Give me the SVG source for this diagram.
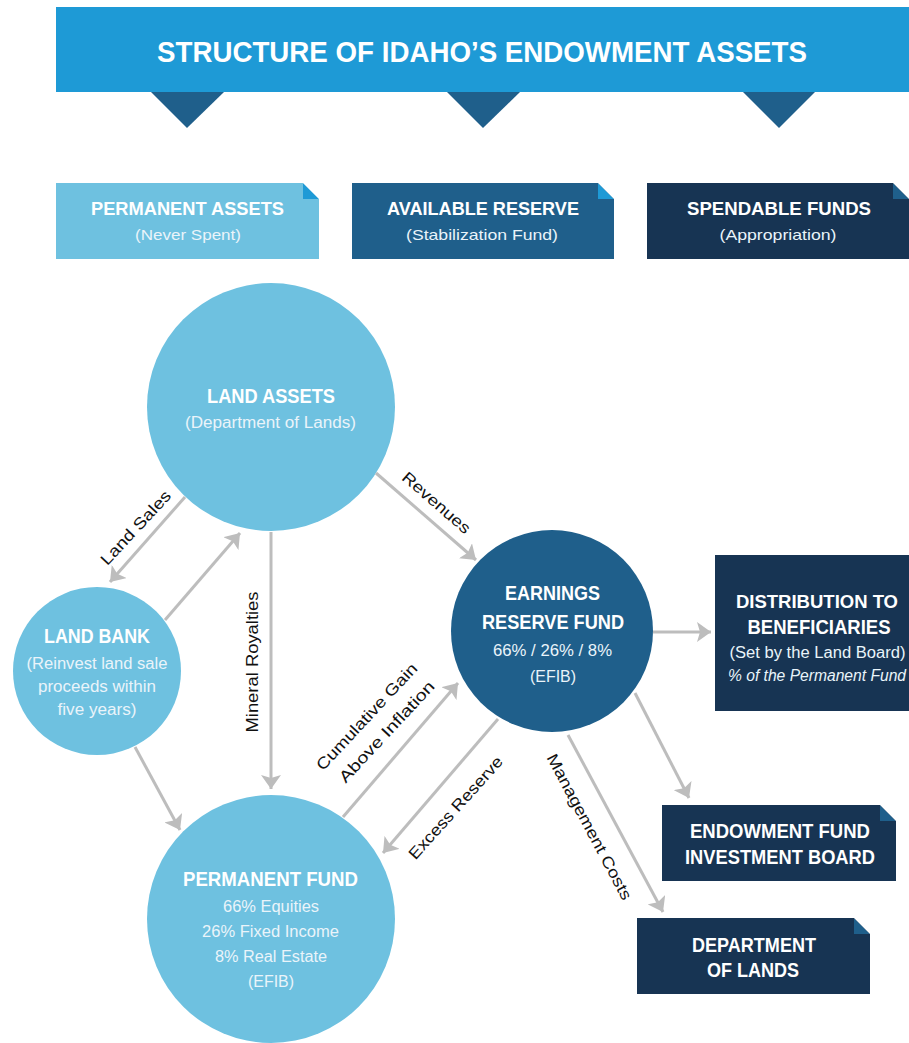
<svg xmlns="http://www.w3.org/2000/svg" width="909" height="1043" viewBox="0 0 909 1043">
<defs>
<style>
.hd{font-family:"Liberation Sans Narrow","Liberation Sans",Arial,sans-serif;font-weight:700;fill:#ffffff;text-anchor:middle}
.sb{font-family:"Liberation Sans Narrow","Liberation Sans",Arial,sans-serif;font-weight:400;fill:#eaf4fa;text-anchor:middle}
.lb{font-family:"Liberation Sans",Arial,sans-serif;font-size:16px;fill:#111111;text-anchor:middle}
.cn{stroke:#bdbdbd;stroke-width:3;fill:none;marker-end:url(#ah)}
.lc{fill:#6ec1e0}
.mb{fill:#1f5f8b}
.db{fill:#173453}
.bb{fill:#1e9ad6}
</style>
<marker id="ah" viewBox="0 0 14 20" refX="14" refY="10" markerWidth="14" markerHeight="20" markerUnits="userSpaceOnUse" orient="auto">
<path d="M0,0 L14,10 L0,20 L3,10 z" fill="#bdbdbd"/>
</marker>
</defs>
<rect width="909" height="1043" fill="#ffffff"/>

<g id="header">
<rect x="56" y="7" width="860" height="85" class="bb"/>
<polygon points="151,92 224,92 187,128" class="mb"/>
<polygon points="447,92 520,92 483,128" class="mb"/>
<polygon points="743,92 815,92 779,128" class="mb"/>
<text x="482" y="62" class="hd" font-size="29" textLength="650" lengthAdjust="spacingAndGlyphs">STRUCTURE OF IDAHO’S ENDOWMENT ASSETS</text>
</g>

<g id="permanent-assets">
<rect x="56" y="183" width="263" height="76" class="lc"/>
<polygon points="303,183 319,199 303,199" fill="#1e9ad6"/>
<polygon points="303,183 319,183 319,199" fill="#ffffff"/>
<text x="187.5" y="215" class="hd" font-size="19" textLength="193" lengthAdjust="spacingAndGlyphs">PERMANENT ASSETS</text>
<text x="188" y="240" class="sb" font-size="15" textLength="106" lengthAdjust="spacingAndGlyphs">(Never Spent)</text>
</g>

<g id="available-reserve">
<rect x="352" y="183" width="262" height="76" class="mb"/>
<polygon points="598,183 614,199 598,199" fill="#1e9ad6"/>
<polygon points="598,183 614,183 614,199" fill="#ffffff"/>
<text x="483" y="215" class="hd" font-size="19" textLength="192" lengthAdjust="spacingAndGlyphs">AVAILABLE RESERVE</text>
<text x="482" y="240" class="sb" font-size="15" textLength="152" lengthAdjust="spacingAndGlyphs">(Stabilization Fund)</text>
</g>

<g id="spendable-funds">
<rect x="647" y="183" width="270" height="76" class="db"/>
<polygon points="893,183 909,199 893,199" fill="#1f5f8b"/>
<polygon points="893,183 909,183 909,199" fill="#ffffff"/>
<text x="779" y="215" class="hd" font-size="19" textLength="184" lengthAdjust="spacingAndGlyphs">SPENDABLE FUNDS</text>
<text x="778" y="240" class="sb" font-size="15" textLength="117" lengthAdjust="spacingAndGlyphs">(Appropriation)</text>
</g>

<g id="land-assets">
<circle cx="271" cy="407" r="124" class="lc"/>
<text x="271" y="403" class="hd" font-size="20" textLength="128" lengthAdjust="spacingAndGlyphs">LAND ASSETS</text>
<text x="270.5" y="428" class="sb" font-size="16" textLength="171" lengthAdjust="spacingAndGlyphs">(Department of Lands)</text>
</g>

<g id="land-bank">
<circle cx="97" cy="671" r="84" class="lc"/>
<text x="97" y="643" class="hd" font-size="20" textLength="106" lengthAdjust="spacingAndGlyphs">LAND BANK</text>
<text x="97" y="669" class="sb" font-size="16" textLength="141" lengthAdjust="spacingAndGlyphs">(Reinvest land sale</text>
<text x="97" y="692" class="sb" font-size="16" textLength="118" lengthAdjust="spacingAndGlyphs">proceeds within</text>
<text x="97" y="715" class="sb" font-size="16" textLength="79" lengthAdjust="spacingAndGlyphs">five years)</text>
</g>

<g id="earnings-reserve-fund">
<circle cx="552" cy="631" r="101" class="mb"/>
<text x="552.5" y="600" class="hd" font-size="20" textLength="95" lengthAdjust="spacingAndGlyphs">EARNINGS</text>
<text x="553" y="629" class="hd" font-size="20" textLength="142" lengthAdjust="spacingAndGlyphs">RESERVE FUND</text>
<text x="552.5" y="656" class="sb" font-size="16" textLength="119" lengthAdjust="spacingAndGlyphs">66% / 26% / 8%</text>
<text x="553" y="682" class="sb" font-size="16" textLength="46" lengthAdjust="spacingAndGlyphs">(EFIB)</text>
</g>

<g id="permanent-fund">
<circle cx="271" cy="919" r="124" class="lc"/>
<text x="270.5" y="886" class="hd" font-size="20" textLength="175" lengthAdjust="spacingAndGlyphs">PERMANENT FUND</text>
<text x="271" y="912" class="sb" font-size="16" textLength="96" lengthAdjust="spacingAndGlyphs">66% Equities</text>
<text x="270.5" y="937" class="sb" font-size="16" textLength="137" lengthAdjust="spacingAndGlyphs">26% Fixed Income</text>
<text x="271" y="962" class="sb" font-size="16" textLength="112" lengthAdjust="spacingAndGlyphs">8% Real Estate</text>
<text x="271" y="987" class="sb" font-size="16" textLength="46" lengthAdjust="spacingAndGlyphs">(EFIB)</text>
</g>

<g id="distribution">
<rect x="715" y="555" width="200" height="156" class="db"/>
<text x="817" y="608" class="hd" font-size="19" textLength="162" lengthAdjust="spacingAndGlyphs">DISTRIBUTION TO</text>
<text x="819" y="634" class="hd" font-size="20" textLength="143" lengthAdjust="spacingAndGlyphs">BENEFICIARIES</text>
<text x="817.5" y="658" class="sb" font-size="16" textLength="176" lengthAdjust="spacingAndGlyphs">(Set by the Land Board)</text>
<text x="817" y="681" class="sb" font-size="16" font-style="italic" textLength="178" lengthAdjust="spacingAndGlyphs">% of the Permanent Fund</text>
</g>

<g id="efib">
<rect x="662" y="805" width="234" height="76" class="db"/>
<polygon points="880,805 896,821 880,821" fill="#1f5f8b"/>
<polygon points="880,805 896,805 896,821" fill="#ffffff"/>
<text x="780" y="838" class="hd" font-size="20" textLength="180" lengthAdjust="spacingAndGlyphs">ENDOWMENT FUND</text>
<text x="780" y="864" class="hd" font-size="20" textLength="190" lengthAdjust="spacingAndGlyphs">INVESTMENT BOARD</text>
</g>

<g id="department-of-lands">
<rect x="637" y="918" width="233" height="76" class="db"/>
<polygon points="854,918 870,934 854,934" fill="#1f5f8b"/>
<polygon points="854,918 870,918 870,934" fill="#ffffff"/>
<text x="754" y="952" class="hd" font-size="20" textLength="124" lengthAdjust="spacingAndGlyphs">DEPARTMENT</text>
<text x="753" y="977" class="hd" font-size="20" textLength="92" lengthAdjust="spacingAndGlyphs">OF LANDS</text>
</g>

<g id="connectors">
<line x1="185" y1="497" x2="110" y2="582" class="cn"/>
<line x1="165" y1="620" x2="240" y2="533" class="cn"/>
<line x1="271" y1="532" x2="271" y2="789" class="cn"/>
<line x1="376" y1="473" x2="476" y2="560" class="cn"/>
<line x1="343" y1="817" x2="458" y2="683" class="cn"/>
<line x1="498" y1="719" x2="383" y2="853" class="cn"/>
<line x1="568" y1="735" x2="663" y2="912" class="cn"/>
<line x1="635" y1="693" x2="689" y2="798" class="cn"/>
<line x1="653" y1="632" x2="711" y2="632" class="cn"/>
<line x1="135" y1="747" x2="180" y2="830" class="cn"/>
<text class="lb" transform="translate(136,528) rotate(-47)" y="5" textLength="95" lengthAdjust="spacingAndGlyphs">Land Sales</text>
<text class="lb" transform="translate(436,503) rotate(41)" y="5" textLength="85" lengthAdjust="spacingAndGlyphs">Revenues</text>
<text class="lb" transform="translate(253,662) rotate(-90)" y="5" textLength="141" lengthAdjust="spacingAndGlyphs">Mineral Royalties</text>
<text class="lb" transform="translate(367,717) rotate(-47)" y="5" textLength="140" lengthAdjust="spacingAndGlyphs">Cumulative Gain</text>
<text class="lb" transform="translate(387,732) rotate(-47)" y="5" textLength="132" lengthAdjust="spacingAndGlyphs">Above Inflation</text>
<text class="lb" transform="translate(456,808) rotate(-48)" y="5" textLength="132" lengthAdjust="spacingAndGlyphs">Excess Reserve</text>
<text class="lb" transform="translate(589,827) rotate(62)" y="5" textLength="163" lengthAdjust="spacingAndGlyphs">Management Costs</text>
</g>
</svg>
